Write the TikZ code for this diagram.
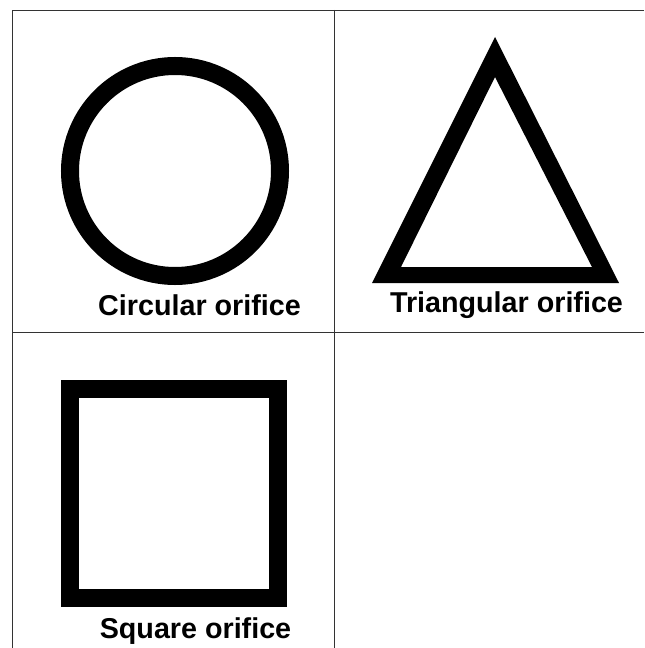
\documentclass[tikz,border=0pt]{standalone}
\usepackage{fontspec}
\setmainfont{Liberation Sans}
\usepackage{tikz}
\usetikzlibrary{positioning}

\begin{document}
\begin{tikzpicture}[x=0.03cm, y=-0.03cm,
  grid/.style={draw=black!80, line width=0.8pt},
  orifice/.style={draw=black, line width=5.4mm},
  lab/.style={anchor=base, inner sep=0pt, font=\fontsize{24.5}{28}\selectfont\bfseries}]
\useasboundingbox (0,0) rectangle (644,648);
% table lines
\coordinate (tl) at (12,10);
\coordinate (tr) at (644,10);
\coordinate (bl) at (12,648);
\coordinate (mt) at (334,10);
\coordinate (mb) at (334,648);
\coordinate (ml) at (12,332);
\coordinate (mr) at (644,332);
\draw[grid] (tr) -- (tl) -- (bl);
\draw[grid] (mt) -- (mb);
\draw[grid] (ml) -- (mr);
% orifices
\draw[orifice] (175,171) circle[radius=3.15cm];
\fill[black, even odd rule] (495,37) -- (372,283) -- (619,283) -- cycle
  (495,77) -- (401,267) -- (592,267) -- cycle;
\draw[orifice] (70,389) rectangle (278,598);
% labels
\node[lab] (circ) at (199.5,315) {Circular orifice};
\node[lab] (tri) at (506.5,312) {Triangular orifice};
\node[lab] (sq) at (195.5,638) {Square orifice};
\end{tikzpicture}
\end{document}
